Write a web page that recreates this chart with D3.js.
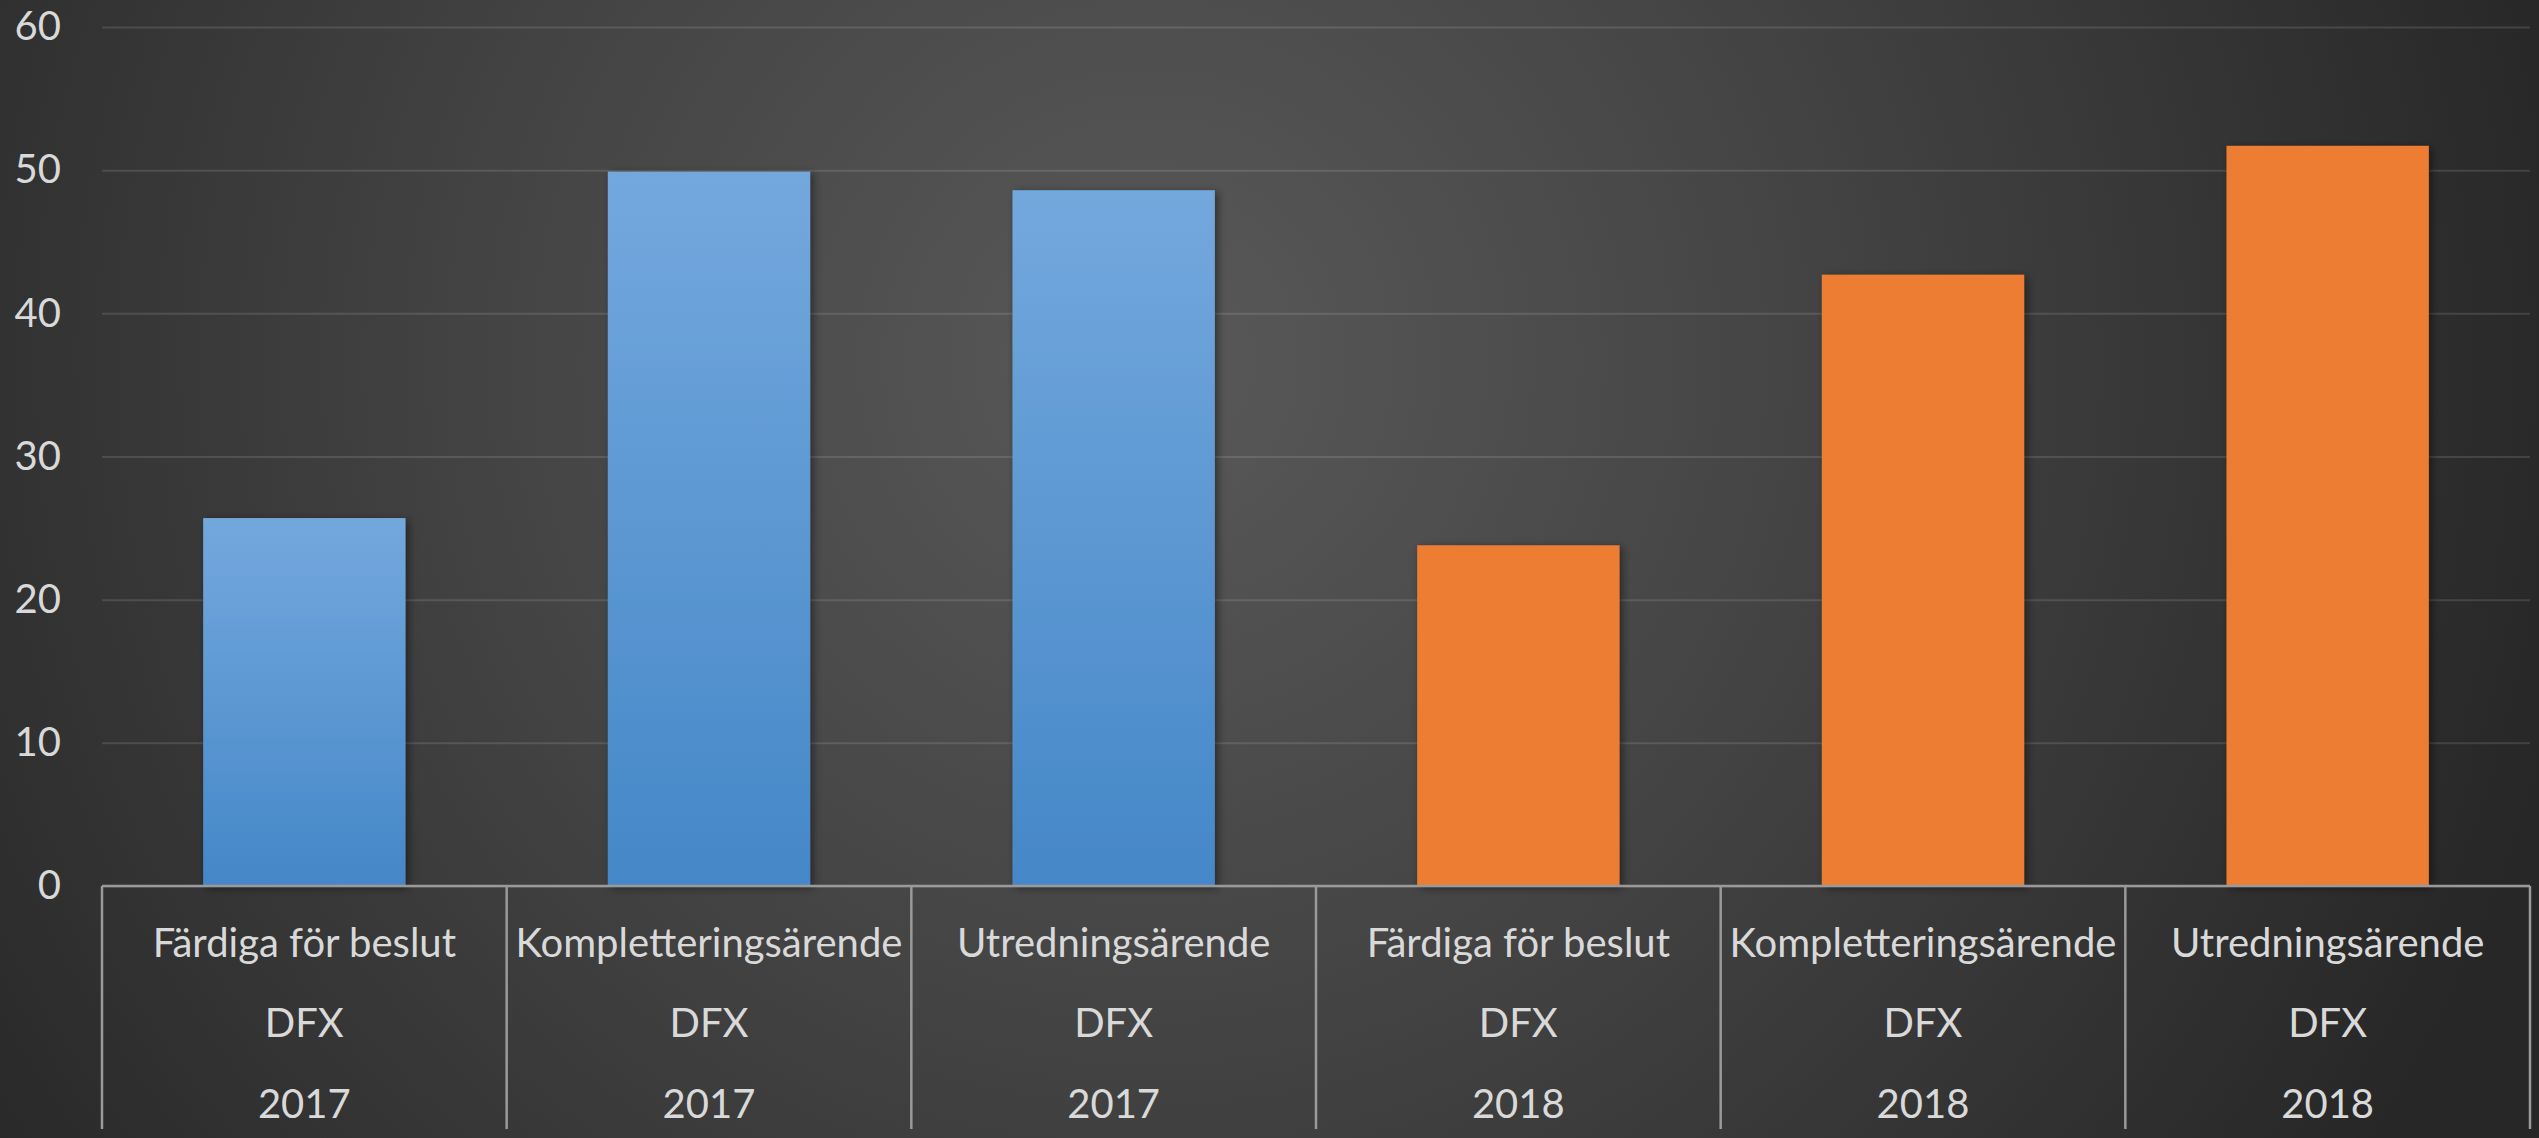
<!DOCTYPE html>
<html>
<head>
<meta charset="utf-8">
<script src="https://cdn.jsdelivr.net/npm/d3@7"></script>
<style>
  html, body { margin: 0; padding: 0; background: #2b2b2b; overflow: hidden; }
  svg { display: block; }
  text { font-family: Lato, "Open Sans", sans-serif; fill: #d9d9d9; }
</style>
</head>
<body>
<svg id="chart"></svg>
<script>
const categories = ["Färdiga för beslut", "Kompletteringsärende", "Utredningsärende",
                    "Färdiga för beslut", "Kompletteringsärende", "Utredningsärende"];
const groups = ["DFX", "DFX", "DFX", "DFX", "DFX", "DFX"];
const years = ["2017", "2017", "2017", "2018", "2018", "2018"];
const values = [25.7, 49.9, 48.6, 23.8, 42.7, 51.7];
const yTicks = [0, 10, 20, 30, 40, 50, 60];

const width = 2539, height = 1138;
const margin = { top: 27, right: 9, bottom: 252, left: 102 };

const svg = d3.select("svg#chart")
    .attr("width", width)
    .attr("height", height);

const defs = svg.append("defs");

// background glow
const bg = defs.append("radialGradient")
    .attr("id", "bg")
    .attr("gradientUnits", "userSpaceOnUse")
    .attr("cx", 1150).attr("cy", 360).attr("r", 1450);
bg.append("stop").attr("offset", "0%").attr("stop-color", "#595959");
bg.append("stop").attr("offset", "45%").attr("stop-color", "#444444");
bg.append("stop").attr("offset", "100%").attr("stop-color", "#272727");

// blue bar fill
const blue = defs.append("linearGradient")
    .attr("id", "blue")
    .attr("x1", 0).attr("y1", 0).attr("x2", 0).attr("y2", 1);
blue.append("stop").attr("offset", "0%").attr("stop-color", "#73a8dd");
blue.append("stop").attr("offset", "100%").attr("stop-color", "#4587c8");

const shadow = defs.append("filter")
    .attr("id", "shadow")
    .attr("x", "-10%").attr("y", "-10%").attr("width", "130%").attr("height", "130%");
shadow.append("feDropShadow")
    .attr("dx", 3).attr("dy", 2).attr("stdDeviation", 4)
    .attr("flood-color", "#000").attr("flood-opacity", 0.45);

svg.append("rect")
    .attr("width", width).attr("height", height)
    .attr("fill", "url(#bg)");

// SCALES
const idx = d3.range(categories.length);

const xScale = d3.scaleBand()
    .domain(idx)
    .range([margin.left, width - margin.right])
    .paddingInner(0.5)
    .paddingOuter(0.25);

const cellScale = d3.scaleBand()
    .domain(idx)
    .range([margin.left, width - margin.right]);

const yScale = d3.scaleLinear()
    .domain([0, 60])
    .range([height - margin.bottom, margin.top]);

// GRID + Y AXIS
const yAxis = g => g.attr("transform", `translate(${margin.left},0)`)
    .call(d3.axisLeft(yScale)
        .tickValues(yTicks)
        .tickSize(-(width - margin.left - margin.right))
        .tickPadding(41))
    .call(g => g.select(".domain").remove())
    .call(g => g.selectAll(".tick line")
        .attr("stroke", "#ffffff")
        .attr("stroke-opacity", 0.12)
        .attr("stroke-width", 2))
    .call(g => g.selectAll(".tick text")
        .attr("font-size", 40)
        .attr("fill", "#d9d9d9"));

svg.append("g").call(yAxis);

// BARS
svg.append("g")
    .selectAll("rect")
    .data(idx)
    .join("rect")
    .attr("x", i => xScale(i))
    .attr("width", xScale.bandwidth())
    .attr("y", i => yScale(values[i]))
    .attr("height", i => yScale(0) - yScale(values[i]))
    .attr("fill", i => years[i] === "2017" ? "url(#blue)" : "#ed7d31")
    .attr("filter", "url(#shadow)");

// X AXIS (multi-level table)
const y0 = yScale(0);
const axisBottomY = 1129;
const xAxis = svg.append("g");

xAxis.append("line")
    .attr("x1", cellScale.range()[0]).attr("x2", cellScale.range()[1])
    .attr("y1", y0).attr("y2", y0)
    .attr("stroke", "#9a9a9a").attr("stroke-width", 2.5);

xAxis.selectAll("line.sep")
    .data(d3.range(categories.length + 1))
    .join("line")
    .attr("class", "sep")
    .attr("x1", i => cellScale.range()[0] + i * cellScale.step())
    .attr("x2", i => cellScale.range()[0] + i * cellScale.step())
    .attr("y1", y0).attr("y2", axisBottomY)
    .attr("stroke", "#9a9a9a").attr("stroke-width", 2.5);

const rows = [
    { labels: categories, y: 942 },
    { labels: groups, y: 1022 },
    { labels: years, y: 1103 }
];

rows.forEach(row => {
    xAxis.append("g")
        .selectAll("text")
        .data(idx)
        .join("text")
        .attr("x", i => cellScale(i) + cellScale.bandwidth() / 2)
        .attr("y", row.y)
        .attr("text-anchor", "middle")
        .attr("dominant-baseline", "central")
        .attr("font-size", 40)
        .text(i => row.labels[i]);
});
</script>
</body>
</html>
